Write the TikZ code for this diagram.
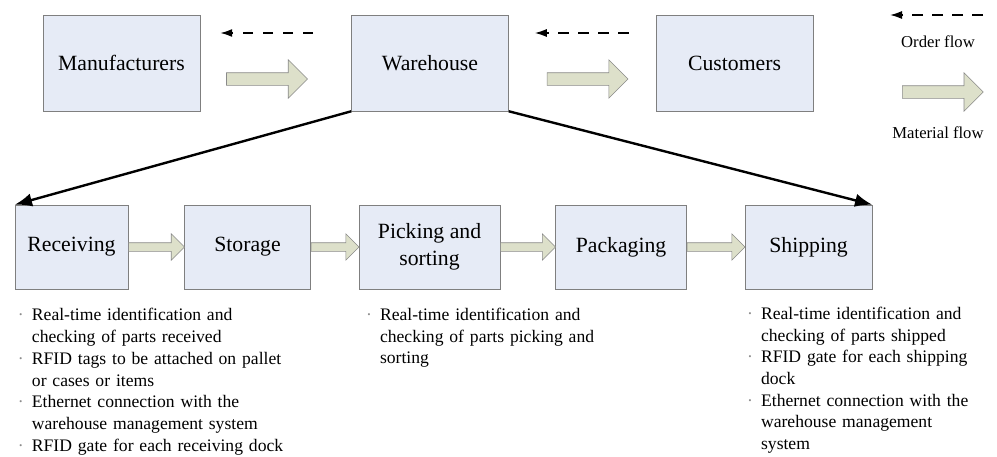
\documentclass[tikz,border=0pt]{standalone}
\usepackage{fontspec}
\setmainfont{Liberation Serif}
\usepackage{tikz}
\usetikzlibrary{shapes.arrows, arrows.meta, positioning, calc}
\definecolor{boxFill}{HTML}{E6EBF6}
\definecolor{boxBorder}{HTML}{7F7F7F}
\definecolor{arrowFill}{HTML}{DDE0CA}
\definecolor{arrowBorder}{HTML}{8A8A8A}
\definecolor{dotGray}{HTML}{8C8C8C}
% one item of a bullet list below a stage (break lines with \newline)
\newcommand{\itm}[1]{\par\hangindent=10.5pt\hangafter=1\noindent
    \makebox[10.5pt][l]{\textcolor{dotGray}{\textperiodcentered}}#1\par}

\begin{document}
\begin{tikzpicture}[
        unit/.style={draw=boxBorder, fill=boxFill, minimum width=117.75pt, minimum height=72pt,
            align=center, font=\fontsize{16.3}{20}\selectfont},
        stage/.style={draw=boxBorder, fill=boxFill, minimum height=63pt, inner sep=0pt,
            align=center, font=\fontsize{16.3}{20.25}\selectfont},
        matflow/.style={single arrow, draw=arrowBorder, fill=arrowFill, inner xsep=0pt,
            inner ysep=4.5pt, single arrow head extend=9.75pt, minimum height=60.75pt},
        stepflow/.style={single arrow, draw=arrowBorder, fill=arrowFill, inner xsep=0pt,
            inner ysep=3pt, single arrow head extend=6.75pt, anchor=tail},
        orderflow/.style={-{Latex[length=9pt, width=6pt]}, line width=1.2pt,
            dash pattern=on 8pt off 7pt},
        feed/.style={-{Latex[length=13pt, width=10pt]}, line width=1.8pt},
        notes/.style={text width=200pt, align=left, inner sep=0pt, anchor=north west,
            font=\fontsize{13.2}{16.3}\selectfont},
        legend/.style={font=\fontsize{12.5}{15}\selectfont}
    ]
        \useasboundingbox (0,0) rectangle (747.75pt,-342.75pt);
        % supply chain
        \node[unit] (man) at (91.1pt,-47.25pt) {Manufacturers};
        \node[unit, right=113.25pt of man] (ware) {Warehouse};
        \node[unit, right=110.25pt of ware] (cust) {Customers};
        \node[matflow, right=19.5pt of man, yshift=-12pt] (mw) {};
        \node[matflow, right=28.5pt of ware, yshift=-12pt] (wc) {};
        \draw[orderflow] ([shift={(-28.5pt,22.5pt)}]ware.west) -- ([shift={(15pt,22.5pt)}]man.east);
        \draw[orderflow] ([shift={(-20.25pt,22.5pt)}]cust.west) -- ([shift={(19.5pt,22.5pt)}]ware.east);

        % legend
        \node[legend] (ordtxt) at (703.5pt,-31.5pt) {Order flow};
        \node[legend] (mattxt) at (703.5pt,-99.75pt) {Material flow};
        \coordinate (ordA) at (737.25pt,-11.25pt);
        \coordinate (ordB) at (667.5pt,-11.25pt);
        \draw[orderflow] (ordA) -- (ordB);
        \node[matflow, anchor=tail] (legflow) at (676.5pt,-69pt) {};

        % warehouse operations
        \node[stage, minimum width=84.75pt] (rec) at (53.6pt,-185.25pt) {Receiving};
        \node[stage, minimum width=94.5pt, right=42pt of rec] (sto) {Storage};
        \node[stage, minimum width=105.75pt, right=36pt of sto] (pick) {Picking and\\sorting};
        \node[stage, minimum width=98.25pt, right=41.25pt of pick] (pack) {Packaging};
        \node[stage, minimum width=95.25pt, right=43.5pt of pack] (ship) {Shipping};
        \foreach \a/\b in {rec/sto, sto/pick, pick/pack, pack/ship}
            \path let \p1=(\a.east), \p2=(\b.west) in
                node[stepflow, minimum height={\x2-\x1}] at (\p1) {};
        \draw[feed] (ware.south west) -- (rec.north west);
        \draw[feed] (ware.south east) -- (ship.north east);

        % notes under the stages
        \node[notes] (recnotes) at ([shift={(2.25pt,-7.25pt)}]rec.south west) {%
            \itm{Real-time identification and\newline checking of parts received}
            \itm{RFID tags to be attached on pallet\newline or cases or items}
            \itm{Ethernet connection with the\newline warehouse management system}
            \itm{RFID gate for each receiving dock}};
        \node[notes] (picknotes) at ([shift={(5.25pt,-6.75pt)}]pick.south west) {%
            \itm{Real-time identification and\newline checking of parts picking and\newline sorting}};
        \node[notes] (shipnotes) at ([shift={(1.5pt,-6pt)}]ship.south west) {%
            \itm{Real-time identification and\newline checking of parts shipped}
            \itm{RFID gate for each shipping\newline dock}
            \itm{Ethernet connection with the\newline warehouse management\newline system}};
    \end{tikzpicture}
\end{document}
